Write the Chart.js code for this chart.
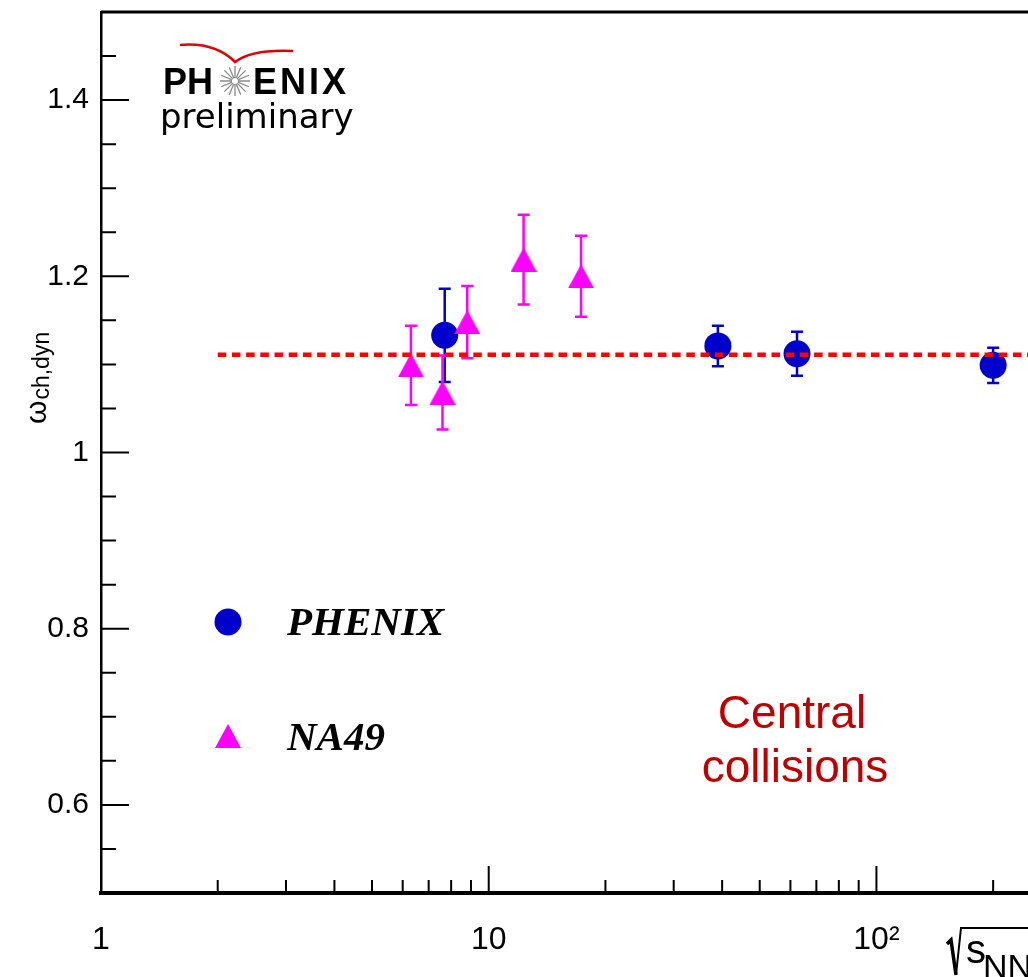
<!DOCTYPE html>
<html>
<head>
<meta charset="utf-8">
<title>omega ch,dyn vs sqrt(s_NN)</title>
<script src="https://cdn.jsdelivr.net/npm/chart.js@4.4.1/dist/chart.umd.min.js"></script>
<style>
  html, body { margin: 0; padding: 0; background: #fff; overflow: hidden; }
  #wrap { width: 1028px; height: 977px; }
</style>
</head>
<body>
<div id="wrap"><canvas id="omegaChart" width="1028" height="977"></canvas></div>
<script>
// PHENIX, central collisions
var phenixEnergy = [7.7, 39, 62.4, 200];
var phenixOmega = [1.133, 1.121, 1.112, 1.099];
var phenixErr = [0.053, 0.023, 0.025, 0.020];

// NA49
var na49Energy = [6.3, 7.6, 8.8, 12.3, 17.3];
var na49Omega = [1.099, 1.068, 1.148, 1.219, 1.200];
var na49Err = [0.045, 0.042, 0.041, 0.051, 0.046];

// constant fit over all points
var fitLevel = 1.111;
var fitRange = [2, 246];

// axes
var xRange = [1, 246];
var yRange = [0.5, 1.5];
var xTickValues = [1, 10, 100];
var xTickLabels = ['1', '10', '10\u00B2'];
var yTickValues = [0.6, 0.8, 1, 1.2, 1.4];
var yTickLabels = ['0.6', '0.8', '1', '1.2', '1.4'];

var blue = '#0000cc';
var magenta = '#ff00ff';

// triangle marker centred on its bounding box (ROOT style)
function makeTriangle(w, h, color) {
  var c = document.createElement('canvas');
  c.width = w;
  c.height = h;
  var g = c.getContext('2d');
  g.fillStyle = color;
  g.beginPath();
  g.moveTo(w / 2, 0);
  g.lineTo(w, h);
  g.lineTo(0, h);
  g.closePath();
  g.fill();
  return c;
}
var triangle = makeTriangle(26, 24, magenta);

function labelFor(values, labels, v) {
  for (var i = 0; i < values.length; i++) {
    if (Math.abs(values[i] - v) < 1e-6) return labels[i];
  }
  return '';
}

function points(xs, ys) {
  return xs.map(function(x, i) { return { x: x, y: ys[i] }; });
}

// vertical error bars with small caps
var errorBars = {
  id: 'errorBars',
  beforeDatasetsDraw: function(chart) {
    var ctx = chart.ctx, xs = chart.scales.x, ys = chart.scales.y;
    chart.data.datasets.forEach(function(ds) {
      if (!ds.errBars) return;
      ctx.save();
      ctx.strokeStyle = ds.barColor;
      ctx.lineWidth = 2.5;
      ctx.beginPath();
      ds.data.forEach(function(p, i) {
        var px = xs.getPixelForValue(p.x);
        var top = ys.getPixelForValue(p.y + ds.errBars[i]);
        var bot = ys.getPixelForValue(p.y - ds.errBars[i]);
        ctx.moveTo(px, top); ctx.lineTo(px, bot);
        ctx.moveTo(px - 6, top); ctx.lineTo(px + 6, top);
        ctx.moveTo(px - 6, bot); ctx.lineTo(px + 6, bot);
      });
      ctx.stroke();
      ctx.restore();
    });
  }
};

// frame top, inward ticks, titles, legend and logo
var decorations = {
  id: 'decorations',
  afterDraw: function(chart) {
    var ctx = chart.ctx, a = chart.chartArea, xs = chart.scales.x, ys = chart.scales.y;
    ctx.save();
    ctx.strokeStyle = '#000';
    ctx.lineWidth = 3;
    ctx.beginPath();
    ctx.moveTo(a.left, a.top);
    ctx.lineTo(a.right, a.top);
    ctx.stroke();

    ctx.lineWidth = 2;
    ctx.beginPath();
    ys.ticks.forEach(function(t) {
      var py = ys.getPixelForValue(t.value);
      if (py >= a.bottom - 2 || py <= a.top + 2) return;
      var len = t.label ? 28 : 15;
      ctx.moveTo(a.left, py);
      ctx.lineTo(a.left + len, py);
    });
    xs.ticks.forEach(function(t) {
      var m = t.value / Math.pow(10, Math.floor(Math.log10(t.value) + 1e-9));
      if (Math.abs(m - Math.round(m)) > 1e-6) return;
      var px = xs.getPixelForValue(t.value);
      if (px <= a.left + 2 || px >= a.right - 2) return;
      var len = t.label ? 27 : 13;
      ctx.moveTo(px, a.bottom);
      ctx.lineTo(px, a.bottom - len);
    });
    ctx.stroke();

    // y title: omega_ch,dyn
    ctx.save();
    ctx.translate(46, 424);
    ctx.rotate(-Math.PI / 2);
    ctx.fillStyle = '#000';
    ctx.textAlign = 'left';
    ctx.textBaseline = 'alphabetic';
    ctx.font = '30px "Liberation Sans"';
    ctx.fillText('\u03C9', 0, 0);
    var w = ctx.measureText('\u03C9').width;
    ctx.font = '23px "Liberation Sans Narrow", "Liberation Sans"';
    ctx.fillText('ch,dyn', w + 1, 3);
    ctx.restore();

    // x title: sqrt(s_NN)
    ctx.fillStyle = '#000';
    ctx.lineWidth = 3.5;
    ctx.beginPath();
    ctx.moveTo(947, 944);
    ctx.lineTo(951, 940);
    ctx.lineTo(956, 975);
    ctx.stroke();
    ctx.lineWidth = 2;
    ctx.beginPath();
    ctx.moveTo(956, 975);
    ctx.lineTo(961, 928);
    ctx.lineTo(1028, 928);
    ctx.stroke();
    ctx.textAlign = 'left';
    ctx.textBaseline = 'alphabetic';
    ctx.font = '40px "Liberation Sans Narrow", "Liberation Sans"';
    ctx.fillText('s', 966, 963);
    ctx.font = '34px "Liberation Sans Narrow", "Liberation Sans"';
    ctx.fillText('NN', 983, 978);

    // legend inside the frame
    var ds = chart.data.datasets;
    ctx.fillStyle = ds[1].backgroundColor;
    ctx.beginPath();
    ctx.arc(228, 622, ds[1].pointRadius, 0, Math.PI * 2);
    ctx.fill();
    ctx.drawImage(triangle, 228 - triangle.width / 2, 736 - triangle.height / 2);
    ctx.fillStyle = '#000';
    ctx.font = 'italic bold 41px "Liberation Serif"';
    ctx.fillText(ds[1].label, 287, 635);
    ctx.fillText(ds[2].label, 287, 750);

    // caption
    ctx.fillStyle = '#c00000';
    ctx.textAlign = 'center';
    ctx.font = '46px "Liberation Sans"';
    ctx.fillText('Central', 792, 728);
    ctx.fillText('collisions', 795, 782);

    // PHENIX preliminary logo
    ctx.strokeStyle = '#e00000';
    ctx.lineWidth = 2.5;
    ctx.beginPath();
    ctx.moveTo(180, 45);
    ctx.quadraticCurveTo(215, 42, 235, 62);
    ctx.quadraticCurveTo(252, 49, 293, 51);
    ctx.stroke();

    ctx.strokeStyle = '#8a8a8a';
    ctx.lineWidth = 1.3;
    ctx.beginPath();
    for (var k = 0; k < 16; k++) {
      var ang = k * Math.PI / 8;
      ctx.moveTo(235 + Math.cos(ang) * 3, 81 + Math.sin(ang) * 3);
      ctx.lineTo(235 + Math.cos(ang) * 15, 81 + Math.sin(ang) * 15);
    }
    ctx.stroke();

    ctx.fillStyle = '#000';
    ctx.textAlign = 'left';
    ctx.font = 'bold 36px "Liberation Sans"';
    ctx.fillText('PH', 163, 94);
    ctx.letterSpacing = '3px';
    ctx.fillText('ENIX', 253, 94);
    ctx.letterSpacing = '0px';
    ctx.font = '34px "DejaVu Sans"';
    ctx.fillText('preliminary', 160, 128);
    ctx.restore();
  }
};

var ctx = document.getElementById('omegaChart').getContext('2d');
var omegaChart = new Chart(ctx, {
  type: 'scatter',
  data: {
    datasets: [
      {
        label: 'fit',
        type: 'line',
        data: points(fitRange, [fitLevel, fitLevel]),
        borderColor: '#ff0000',
        borderWidth: 4.5,
        borderDash: [8.5, 5.7],
        pointRadius: 0,
        showLine: true,
        fill: false,
        order: 0
      },
      {
        label: 'PHENIX',
        data: points(phenixEnergy, phenixOmega),
        errBars: phenixErr,
        barColor: blue,
        pointStyle: 'circle',
        pointRadius: 13.5,
        backgroundColor: blue,
        borderWidth: 0,
        order: 2
      },
      {
        label: 'NA49',
        data: points(na49Energy, na49Omega),
        errBars: na49Err,
        barColor: magenta,
        pointStyle: triangle,
        pointRadius: 13,
        backgroundColor: magenta,
        borderWidth: 0,
        order: 1
      }
    ]
  },
  options: {
    responsive: false,
    animation: false,
    events: [],
    layout: { autoPadding: false, padding: { top: 12, left: 0, right: 0, bottom: 0 } },
    plugins: { legend: { display: false }, tooltip: { enabled: false } },
    scales: {
      x: {
        type: 'logarithmic',
        min: xRange[0],
        max: xRange[1],
        grid: { display: false, drawTicks: false },
        border: { display: true, color: '#000', width: 4 },
        ticks: {
          autoSkip: false,
          maxRotation: 0,
          padding: 28,
          color: '#000',
          font: { family: '"Liberation Sans Narrow", "Liberation Sans"', size: 32 },
          callback: function(v) { return labelFor(xTickValues, xTickLabels, v); }
        },
        afterFit: function(scale) {
          scale.height = 84;
          scale.paddingLeft = 0;
          scale.paddingRight = 0;
        }
      },
      y: {
        min: yRange[0],
        max: yRange[1],
        grid: { display: false, drawTicks: false },
        border: { display: true, color: '#000', width: 2.5 },
        ticks: {
          stepSize: 0.05,
          autoSkip: false,
          padding: 12,
          color: '#000',
          font: { family: '"Liberation Sans"', size: 30 },
          callback: function(v) { return labelFor(yTickValues, yTickLabels, v); }
        },
        afterFit: function(scale) {
          scale.width = 101;
          scale.paddingTop = 0;
          scale.paddingBottom = 0;
        }
      }
    }
  },
  plugins: [errorBars, decorations]
});
</script>
</body>
</html>
